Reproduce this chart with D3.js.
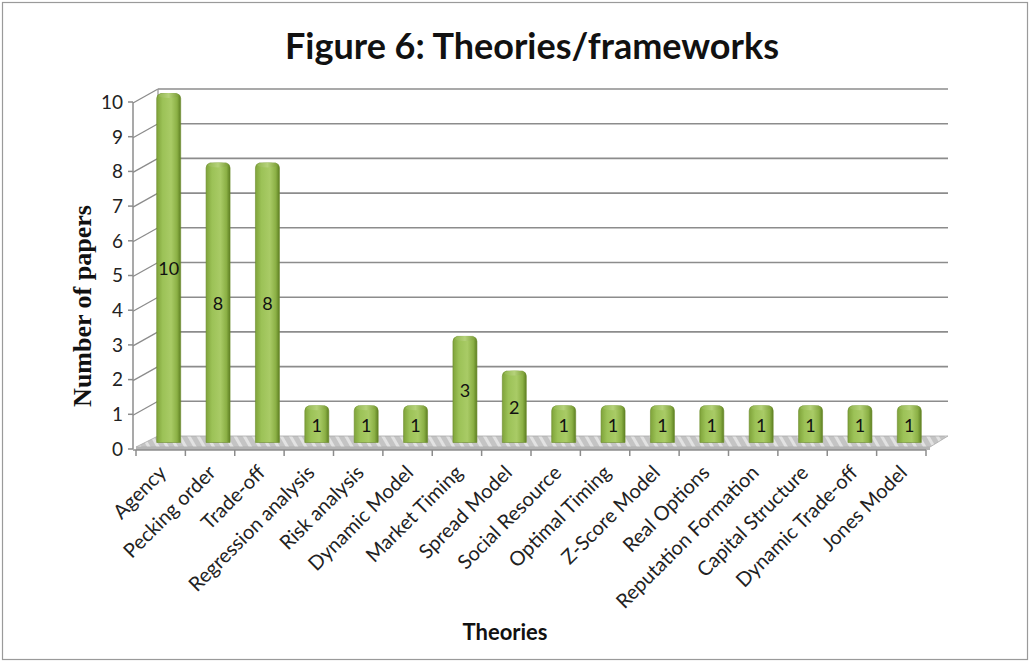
<!DOCTYPE html>
<html>
<head>
<meta charset="utf-8">
<script src="https://cdn.jsdelivr.net/npm/d3@7"></script>
<style>
  html, body { margin: 0; padding: 0; background: #fff; }
  svg { display: block; }
</style>
</head>
<body>
<svg id="chart" width="1030" height="663"></svg>
<script>
// Theories / frameworks and how many papers use each
const theories = ["Agency", "Pecking order", "Trade-off", "Regression analysis", "Risk analysis",
  "Dynamic Model", "Market Timing", "Spread Model", "Social Resource", "Optimal Timing",
  "Z-Score Model", "Real Options", "Reputation Formation", "Capital Structure",
  "Dynamic Trade-off", "Jones Model"];
const papers = [10, 8, 8, 1, 1, 1, 3, 2, 1, 1, 1, 1, 1, 1, 1, 1];
const yTicks = [0, 1, 2, 3, 4, 5, 6, 7, 8, 9, 10];

const svg = d3.select("#chart");
const W = 1030, H = 663;
const FONT = "Lato, 'Open Sans', sans-serif";

// outer frame
svg.append("rect").attr("x", 2.5).attr("y", 2.5).attr("width", W - 5).attr("height", H - 6)
  .attr("fill", "#fff").attr("stroke", "#9a9a9a").attr("stroke-width", 1.2);

// front plane scales; the back wall is shifted by the depth offset
const x = d3.scaleBand().domain(theories).range([136, 926]).paddingInner(0).paddingOuter(0);
const y = d3.scaleLinear().domain([0, 10]).range([449, 102]);
const DX = 22, DY = -13;

const defs = svg.append("defs");
const grad = defs.append("linearGradient").attr("id", "barGrad").attr("x1", "0").attr("x2", "1");
grad.append("stop").attr("offset", "0").attr("stop-color", "#7fa33a");
grad.append("stop").attr("offset", "0.25").attr("stop-color", "#9cc257");
grad.append("stop").attr("offset", "0.6").attr("stop-color", "#a9cb66");
grad.append("stop").attr("offset", "0.85").attr("stop-color", "#8bb045");
grad.append("stop").attr("offset", "1").attr("stop-color", "#5d7f22");
const capGrad = defs.append("linearGradient").attr("id", "capGrad").attr("x1", "0").attr("x2", "1");
capGrad.append("stop").attr("offset", "0").attr("stop-color", "#94b852");
capGrad.append("stop").attr("offset", "0.5").attr("stop-color", "#b5d27a");
capGrad.append("stop").attr("offset", "1").attr("stop-color", "#7d9f38");
const hatch = defs.append("pattern").attr("id", "hatch").attr("patternUnits", "userSpaceOnUse")
  .attr("width", 8).attr("height", 8).attr("patternTransform", "rotate(-30)");
hatch.append("rect").attr("width", 8).attr("height", 8).attr("fill", "#c4c4c4");
hatch.append("rect").attr("width", 3).attr("height", 8).attr("fill", "#e2e2e2");

const x0 = x.range()[0], x1 = x.range()[1];

// back wall gridlines
const grid = svg.append("g");
yTicks.forEach(t => {
  if (t === 0) return;
  grid.append("line")
    .attr("x1", x0 + DX).attr("x2", x1 + DX)
    .attr("y1", y(t) + DY).attr("y2", y(t) + DY)
    .attr("stroke", "#8c8c8c").attr("stroke-width", 1.6);
  // side wall diagonal from front axis to back wall
  grid.append("line")
    .attr("x1", x0 - 3).attr("y1", y(t) + 1)
    .attr("x2", x0 + DX).attr("y2", y(t) + DY)
    .attr("stroke", "#8c8c8c").attr("stroke-width", 1.3);
});
// back wall left edge
grid.append("line").attr("x1", x0 + DX).attr("x2", x0 + DX)
  .attr("y1", y(10) + DY).attr("y2", y(0) + DY)
  .attr("stroke", "#9a9a9a").attr("stroke-width", 1.3);

// floor plate
const floor = [[x0, y(0) - 2], [x1 + 4, y(0) - 2], [x1 + DX, y(0) + DY], [x0 + DX, y(0) + DY]];
svg.append("path").attr("d", d3.line()(floor) + "Z")
  .attr("fill", "url(#hatch)").attr("stroke", "#aaa").attr("stroke-width", 0.8);
svg.append("path").attr("d", d3.line()([[x0, y(0) - 2], [x1 + 4, y(0) - 2], [x1 + 4, y(0) + 1], [x0, y(0) + 1]]) + "Z")
  .attr("fill", "#b4b4b4");

// front value axis
const yAxis = svg.append("g");
yAxis.append("line").attr("x1", x0 - 3).attr("x2", x0 - 3).attr("y1", y(10)).attr("y2", y(0))
  .attr("stroke", "#8c8c8c").attr("stroke-width", 1.5);
yTicks.forEach(t => {
  yAxis.append("line").attr("x1", x0 - 8).attr("x2", x0 - 3).attr("y1", y(t)).attr("y2", y(t))
    .attr("stroke", "#8c8c8c").attr("stroke-width", 1.5);
  yAxis.append("text").attr("x", x0 - 13).attr("y", y(t)).attr("dy", "0.36em")
    .attr("text-anchor", "end").attr("font-family", FONT)
    .attr("font-size", 19).attr("fill", "#222").text(t);
});

// category axis
const xAxis = svg.append("g");
xAxis.append("line").attr("x1", x0 - 3).attr("x2", x1).attr("y1", y(0) + 1).attr("y2", y(0) + 1)
  .attr("stroke", "#8c8c8c").attr("stroke-width", 1.5);
const edges = theories.map(d => x(d)).concat([x1]);
edges.forEach(e => {
  xAxis.append("line").attr("x1", e).attr("x2", e).attr("y1", y(0) + 1).attr("y2", y(0) + 7)
    .attr("stroke", "#8c8c8c").attr("stroke-width", 1.5);
});
theories.forEach(d => {
  const cx = x(d) + x.bandwidth() / 2 + 2, cy = y(0) + 20;
  xAxis.append("text")
    .attr("transform", `translate(${cx},${cy}) rotate(-45)`)
    .attr("text-anchor", "end").attr("dy", "0.35em")
    .attr("font-family", FONT).attr("font-size", 20)
    .attr("fill", "#222").text(d);
});

// bars, placed at mid depth
const BW = 22;
const bars = svg.append("g");
theories.forEach((d, i) => {
  const v = papers[i];
  const bx = x(d) + x.bandwidth() / 2 - BW / 2 + DX / 2 - 4;
  const base = y(0) + DY / 2;
  const top = y(v) + DY / 2;
  const g = bars.append("g");
  g.append("path")
    .attr("d", `M${bx},${base} L${bx},${top + 3} Q${bx},${top - 1} ${bx + 4},${top - 2} L${bx + BW - 2},${top - 2} Q${bx + BW + 2},${top - 1} ${bx + BW + 2},${top + 3} L${bx + BW + 2},${base} Z`)
    .attr("fill", "url(#barGrad)").attr("stroke", "#6b8c2c").attr("stroke-width", 0.6);
  g.append("ellipse").attr("cx", bx + BW / 2 + 1).attr("cy", top).attr("rx", BW / 2 - 1).attr("ry", 2.5)
    .attr("fill", "url(#capGrad)");
  g.append("text").attr("x", bx + BW / 2 + 1).attr("y", (base + top) / 2).attr("dy", "0.36em")
    .attr("text-anchor", "middle").attr("font-family", FONT)
    .attr("font-size", 18).attr("fill", "#111").text(v);
});

// titles
svg.append("text").attr("x", 532).attr("y", 59).attr("text-anchor", "middle")
  .attr("font-family", FONT).attr("font-weight", "bold")
  .attr("font-size", 36).attr("fill", "#111").text("Figure 6: Theories/frameworks");
svg.append("text").attr("transform", "translate(91,306) rotate(-90)").attr("text-anchor", "middle")
  .attr("font-family", "'Liberation Serif', 'DejaVu Serif', serif").attr("font-weight", "bold")
  .attr("font-size", 26).attr("fill", "#111").text("Number of papers");
svg.append("text").attr("x", 505).attr("y", 640).attr("text-anchor", "middle")
  .attr("font-family", FONT).attr("font-weight", "bold")
  .attr("font-size", 22).attr("fill", "#111").text("Theories");
</script>
</body>
</html>
